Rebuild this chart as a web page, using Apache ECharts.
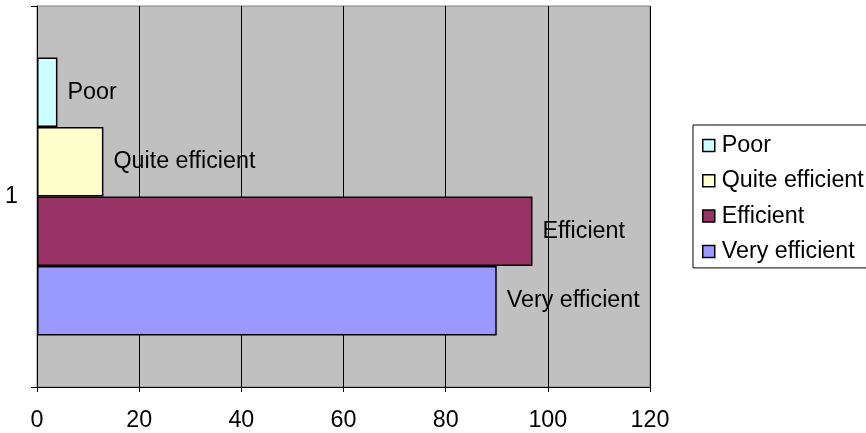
<!DOCTYPE html>
<html>
<head>
<meta charset="utf-8">
<script src="https://cdn.jsdelivr.net/npm/echarts@6/dist/echarts.min.js"></script>
<style>html,body{margin:0;padding:0;background:#fff;}#c{width:866px;height:433px;}</style>
</head>
<body>
<div id="c"></div>
<script>
const categories = ['1'];
const seriesNames = ['Poor', 'Quite efficient', 'Efficient', 'Very efficient'];
const poor = [4];
const quiteEfficient = [13];
const efficient = [97];
const veryEfficient = [90];
const xTicks = { min: 0, max: 120, interval: 20 };
const colors = ['#CCFFFF', '#FFFFCC', '#993366', '#9999FF'];

const values = [poor, quiteEfficient, efficient, veryEfficient];
const font = 'Liberation Sans, Arial, sans-serif';
const fs = 23.3;

const chart = echarts.init(document.getElementById('c'), null, { renderer: 'canvas' });
chart.setOption({
  animation: false,
  backgroundColor: '#ffffff',
  textStyle: { fontFamily: font },
  grid: {
    left: 37, right: 216, top: 6, bottom: 46,
    show: true, backgroundColor: '#C0C0C0', borderColor: '#808080', borderWidth: 1
  },
  legend: {
    orient: 'vertical',
    left: 693, top: 125,
    data: seriesNames,
    itemWidth: 12, itemHeight: 12,
    itemGap: 12.3,
    padding: [9, 12, 5, 9],
    borderColor: '#000', borderWidth: 1,
    backgroundColor: '#fff',
    borderRadius: 0,
    icon: 'rect',
    textStyle: { fontSize: fs, color: '#000', fontFamily: font, padding: [0, 0, 0, 2] },
    itemStyle: { borderColor: '#000', borderWidth: 1.5 }
  },
  xAxis: {
    type: 'value',
    min: xTicks.min, max: xTicks.max, interval: xTicks.interval,
    axisLine: { show: true, lineStyle: { color: '#000', width: 1 } },
    axisTick: { show: true, length: 5, lineStyle: { color: '#000' } },
    axisLabel: { fontSize: fs, color: '#000', margin: 22, fontFamily: font },
    splitLine: { show: true, lineStyle: { color: '#000', width: 1 } }
  },
  yAxis: {
    type: 'category',
    data: categories,
    axisLine: { show: true, lineStyle: { color: '#000', width: 1 } },
    axisTick: { show: true, length: 6, lineStyle: { color: '#000' } },
    axisLabel: { fontSize: fs, color: '#000', margin: 19, fontFamily: font },
    inverse: true
  },
  series: seriesNames.map((name, i) => ({
    name: name,
    type: 'bar',
    data: values[i],
    barGap: '0%',
    barCategoryGap: '27%',
    itemStyle: { color: colors[i], borderColor: '#000', borderWidth: 1.5 },
    label: {
      show: true, position: 'right', distance: 10,
      formatter: '{a}', fontSize: fs, color: '#000', fontFamily: font
    }
  }))
});
</script>
</body>
</html>
